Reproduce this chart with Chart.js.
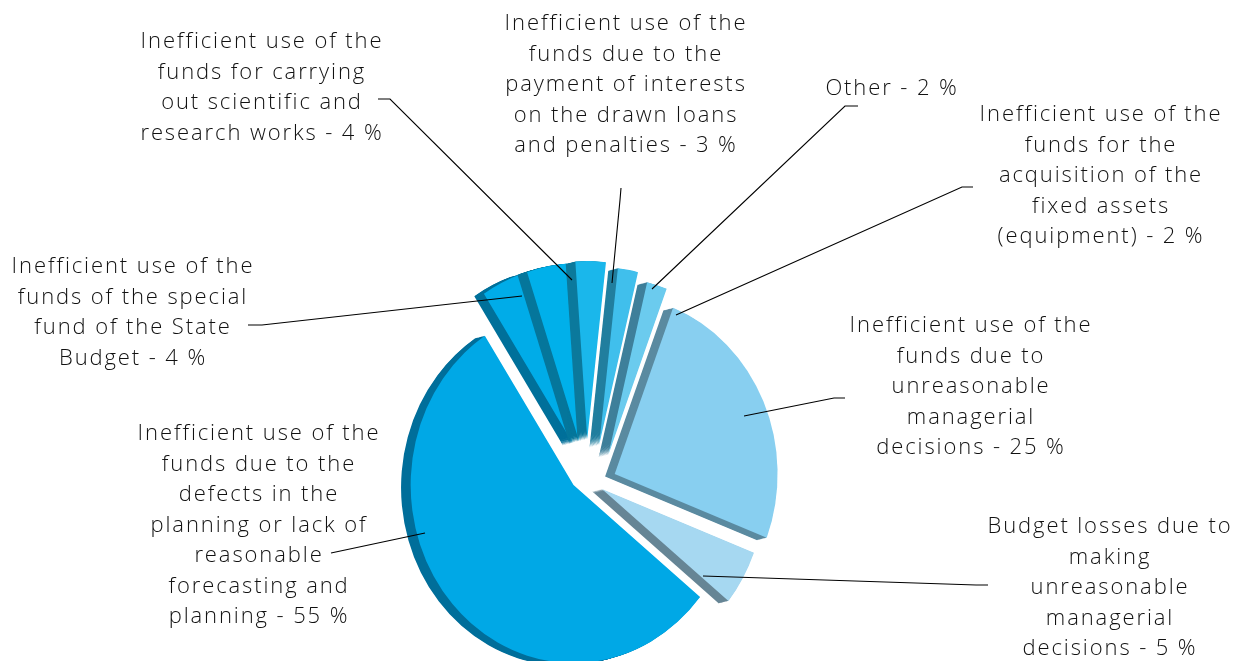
<!DOCTYPE html>
<html>
<head>
<meta charset="utf-8">
<title>Inefficient use of budget funds</title>
<script src="https://cdn.jsdelivr.net/npm/chart.js@4"></script>
<style>
  html, body { margin: 0; background: #fff; overflow: hidden; }
  #wrap { width: 1238px; height: 661px; }
</style>
</head>
<body>
<div id="wrap"><canvas id="PieChart" width="1238" height="661"></canvas></div>
<script>
// values in percent, clockwise from the upper left
const values = [4, 4, 3, 2, 2, 25, 5, 55];

// wrapped category names, value gets appended to the last line
const categories = [
  ['Inefficient use of the', 'funds of the special', 'fund of the State', 'Budget'],
  ['Inefficient use of the', 'funds for carrying', 'out scientific and', 'research works'],
  ['Inefficient use of the', 'funds due to the', 'payment of interests', 'on the drawn loans', 'and penalties'],
  ['Other'],
  ['Inefficient use of the', 'funds for the', 'acquisition of the', 'fixed assets', '(equipment)'],
  ['Inefficient use of the', 'funds due to', 'unreasonable', 'managerial', 'decisions'],
  ['Budget losses due to', 'making', 'unreasonable', 'managerial', 'decisions'],
  ['Inefficient use of the', 'funds due to the', 'defects in the', 'planning or lack of', 'reasonable', 'forecasting and', 'planning']
];

const faceColors = ['#00ace8', '#00b0ea', '#1ab7eb', '#40bfec', '#6bcbee', '#88cff0', '#a6d8f1', '#00a8e6'];
const sideColors = ['#00709a', '#05769b', '#0b799c', '#217e9e', '#3e7f9a', '#5a8aa0', '#668595', '#006e9a'];

// how far each slice is pulled out of the pie, x and y
const explode = [[-19, -35], [-12, -37], [-3, -39], [10, -33], [20, -23], [27, -4], [13, 11], [-18, 7]];

// label block: centre x, first line y
const labelPos = [
  [133, 267], [262, 42], [626, 24], [892, 89], [1101, 115], [971, 326], [1110, 527], [259, 434]
];

// leader lines
const leaders = [
  [[248, 325], [262, 325], [522, 296]],
  [[378, 99], [390, 99], [572, 280]],
  [[621, 188], [620, 200], [612, 283]],
  [[858, 106], [845, 106], [652, 289]],
  [[973, 187], [962, 187], [676, 315]],
  [[845, 398], [834, 398], [744, 416]],
  [[988, 585], [976, 585], [703, 576]],
  [[331, 553], [425, 533]]
];

const squashX = 0.915;
const depthX = -10.5;
const depthY = 2.5;
const lineHeight = 30.45;

// draws the arcs with a narrowed, extruded look, then leaders and labels on top
const pie3d = {
  id: 'pie3d',
  beforeDatasetsDraw(chart) {
    const ctx = chart.ctx;
    const arcs = chart.getDatasetMeta(0).data;
    arcs.forEach((arc, i) => {
      ctx.save();
      ctx.translate(arc.x, arc.y);
      ctx.scale(squashX, 1);
      ctx.translate(-arc.x, -arc.y);
      ctx.translate(explode[i][0], explode[i][1]);

      ctx.fillStyle = sideColors[i];
      for (let s = 1; s <= 12; s++) {
        const dx = depthX * s / 12;
        const dy = depthY * s / 12;
        ctx.beginPath();
        ctx.moveTo(arc.x + dx, arc.y + dy);
        ctx.arc(arc.x + dx, arc.y + dy, arc.outerRadius, arc.startAngle, arc.endAngle);
        ctx.closePath();
        ctx.fill();
      }
      arc.draw(ctx);
      ctx.restore();
    });
    return false;
  },
  afterDraw(chart) {
    const ctx = chart.ctx;
    ctx.save();
    ctx.strokeStyle = '#000';
    ctx.lineWidth = 1.1;
    leaders.forEach(pts => {
      ctx.beginPath();
      pts.forEach((p, k) => k ? ctx.lineTo(p[0], p[1]) : ctx.moveTo(p[0], p[1]));
      ctx.stroke();
    });

    ctx.fillStyle = '#111';
    ctx.font = '300 22px "Open Sans"';
    ctx.letterSpacing = '1.9px';
    ctx.textAlign = 'center';
    ctx.textBaseline = 'middle';
    categories.forEach((lines, i) => {
      lines.forEach((line, k) => {
        const text = k === lines.length - 1 ? line + ' - ' + values[i] + ' %' : line;
        ctx.fillText(text, labelPos[i][0], labelPos[i][1] + k * lineHeight);
      });
    });
    ctx.restore();
  }
};

const ctx = document.getElementById('PieChart').getContext('2d');

const myChart = new Chart(ctx, {
  type: 'pie',
  data: {
    labels: categories.map(c => c.join(' ')),
    datasets: [{
      data: values,
      backgroundColor: faceColors,
      borderWidth: 0
    }]
  },
  options: {
    responsive: false,
    animation: false,
    events: [],
    rotation: -33,
    radius: 178,
    // centre of the pie sits at 590,478, its lower part runs off the page
    layout: { padding: { right: 58, top: 295 } },
    plugins: { legend: { display: false }, tooltip: { enabled: false } }
  },
  plugins: [pie3d]
});
</script>
</body>
</html>
